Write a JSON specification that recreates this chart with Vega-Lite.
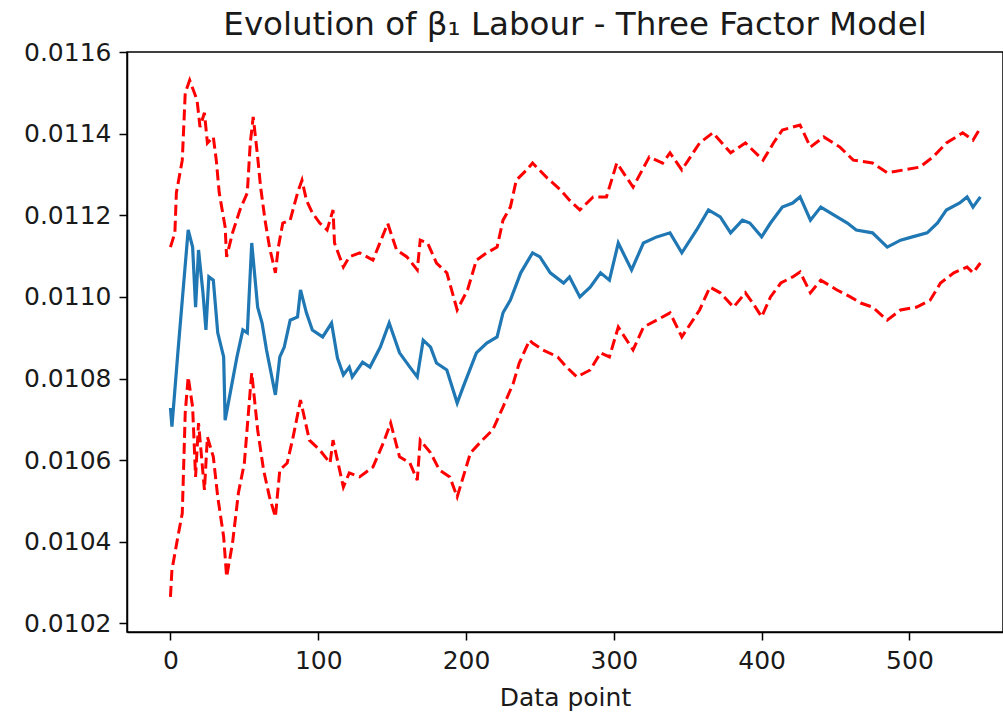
{
  "$schema": "https://vega.github.io/schema/vega-lite/v6.json",
  "width": 876,
  "height": 580,
  "autosize": "none",
  "padding": {"left": 127, "top": 52, "right": 0, "bottom": 88},
  "background": "white",
  "config": {
    "view": {"stroke": "#000", "strokeWidth": 1.5},
    "axis": {
      "grid": false,
      "domainColor": "#000",
      "domainWidth": 1.5,
      "tickColor": "#000",
      "tickWidth": 1.5,
      "tickSize": 8,
      "labelFont": "DejaVu Sans",
      "labelFontSize": 25,
      "labelColor": "#1a1a1a",
      "labelPadding": 8,
      "titleFont": "DejaVu Sans",
      "titleFontSize": 25,
      "titleFontWeight": "normal",
      "titleColor": "#1a1a1a"
    }
  },
  "title": {
    "text": "Evolution of β₁ Labour - Three Factor Model",
    "font": "DejaVu Sans",
    "fontSize": 32.5,
    "fontWeight": "normal",
    "color": "#1a1a1a",
    "frame": "group",
    "anchor": "middle",
    "baseline": "alphabetic",
    "offset": -27,
    "dx": 10
  },
  "data": {
    "values": [
      {"series": "mean", "point": 0, "beta": 0.010728},
      {"series": "mean", "point": 1, "beta": 0.010682},
      {"series": "mean", "point": 5, "beta": 0.010863},
      {"series": "mean", "point": 8, "beta": 0.010992},
      {"series": "mean", "point": 12, "beta": 0.011164},
      {"series": "mean", "point": 15, "beta": 0.011122},
      {"series": "mean", "point": 17, "beta": 0.010975},
      {"series": "mean", "point": 19, "beta": 0.011115},
      {"series": "mean", "point": 22, "beta": 0.01101},
      {"series": "mean", "point": 24, "beta": 0.010919},
      {"series": "mean", "point": 26, "beta": 0.011049},
      {"series": "mean", "point": 29, "beta": 0.011041},
      {"series": "mean", "point": 32, "beta": 0.010912},
      {"series": "mean", "point": 36, "beta": 0.010853},
      {"series": "mean", "point": 37, "beta": 0.010698},
      {"series": "mean", "point": 45, "beta": 0.010853},
      {"series": "mean", "point": 49, "beta": 0.010919},
      {"series": "mean", "point": 52, "beta": 0.010912},
      {"series": "mean", "point": 55, "beta": 0.011132},
      {"series": "mean", "point": 59, "beta": 0.010975},
      {"series": "mean", "point": 62, "beta": 0.010936},
      {"series": "mean", "point": 65, "beta": 0.01087},
      {"series": "mean", "point": 71, "beta": 0.01076},
      {"series": "mean", "point": 74, "beta": 0.010853},
      {"series": "mean", "point": 77, "beta": 0.010877},
      {"series": "mean", "point": 81, "beta": 0.010943},
      {"series": "mean", "point": 86, "beta": 0.010951},
      {"series": "mean", "point": 88, "beta": 0.011017},
      {"series": "mean", "point": 92, "beta": 0.010961},
      {"series": "mean", "point": 96, "beta": 0.010919},
      {"series": "mean", "point": 103, "beta": 0.010902},
      {"series": "mean", "point": 109, "beta": 0.010936},
      {"series": "mean", "point": 113, "beta": 0.01085},
      {"series": "mean", "point": 117, "beta": 0.010809},
      {"series": "mean", "point": 121, "beta": 0.010828},
      {"series": "mean", "point": 123, "beta": 0.010804},
      {"series": "mean", "point": 130, "beta": 0.01084},
      {"series": "mean", "point": 135, "beta": 0.010828},
      {"series": "mean", "point": 142, "beta": 0.010877},
      {"series": "mean", "point": 148, "beta": 0.010936},
      {"series": "mean", "point": 155, "beta": 0.010863},
      {"series": "mean", "point": 162, "beta": 0.010828},
      {"series": "mean", "point": 167, "beta": 0.010804},
      {"series": "mean", "point": 171, "beta": 0.010894},
      {"series": "mean", "point": 176, "beta": 0.010877},
      {"series": "mean", "point": 180, "beta": 0.010838},
      {"series": "mean", "point": 187, "beta": 0.010821},
      {"series": "mean", "point": 194, "beta": 0.01074},
      {"series": "mean", "point": 198, "beta": 0.010779},
      {"series": "mean", "point": 207, "beta": 0.010863},
      {"series": "mean", "point": 214, "beta": 0.010887},
      {"series": "mean", "point": 221, "beta": 0.010902},
      {"series": "mean", "point": 225, "beta": 0.010961},
      {"series": "mean", "point": 230, "beta": 0.010992},
      {"series": "mean", "point": 237, "beta": 0.011059},
      {"series": "mean", "point": 245, "beta": 0.011108},
      {"series": "mean", "point": 250, "beta": 0.011098},
      {"series": "mean", "point": 257, "beta": 0.011059},
      {"series": "mean", "point": 266, "beta": 0.011034},
      {"series": "mean", "point": 270, "beta": 0.011049},
      {"series": "mean", "point": 277, "beta": 0.011},
      {"series": "mean", "point": 284, "beta": 0.011024},
      {"series": "mean", "point": 291, "beta": 0.011059},
      {"series": "mean", "point": 297, "beta": 0.011041},
      {"series": "mean", "point": 303, "beta": 0.011132},
      {"series": "mean", "point": 312, "beta": 0.011066},
      {"series": "mean", "point": 320, "beta": 0.011132},
      {"series": "mean", "point": 329, "beta": 0.011147},
      {"series": "mean", "point": 338, "beta": 0.011157},
      {"series": "mean", "point": 346, "beta": 0.011108},
      {"series": "mean", "point": 356, "beta": 0.011164},
      {"series": "mean", "point": 364, "beta": 0.011213},
      {"series": "mean", "point": 372, "beta": 0.011196},
      {"series": "mean", "point": 379, "beta": 0.011157},
      {"series": "mean", "point": 387, "beta": 0.011188},
      {"series": "mean", "point": 392, "beta": 0.011181},
      {"series": "mean", "point": 400, "beta": 0.011147},
      {"series": "mean", "point": 406, "beta": 0.011181},
      {"series": "mean", "point": 414, "beta": 0.01122},
      {"series": "mean", "point": 421, "beta": 0.01123},
      {"series": "mean", "point": 426, "beta": 0.011245},
      {"series": "mean", "point": 433, "beta": 0.011188},
      {"series": "mean", "point": 440, "beta": 0.01122},
      {"series": "mean", "point": 451, "beta": 0.011196},
      {"series": "mean", "point": 458, "beta": 0.011181},
      {"series": "mean", "point": 464, "beta": 0.011164},
      {"series": "mean", "point": 475, "beta": 0.011157},
      {"series": "mean", "point": 485, "beta": 0.011122},
      {"series": "mean", "point": 494, "beta": 0.011139},
      {"series": "mean", "point": 502, "beta": 0.011147},
      {"series": "mean", "point": 512, "beta": 0.011157},
      {"series": "mean", "point": 519, "beta": 0.011181},
      {"series": "mean", "point": 525, "beta": 0.011213},
      {"series": "mean", "point": 534, "beta": 0.01123},
      {"series": "mean", "point": 539, "beta": 0.011245},
      {"series": "mean", "point": 543, "beta": 0.01122},
      {"series": "mean", "point": 548, "beta": 0.011245},

      {"series": "upper", "point": 0, "beta": 0.011122},
      {"series": "upper", "point": 3, "beta": 0.011157},
      {"series": "upper", "point": 4, "beta": 0.011255},
      {"series": "upper", "point": 8, "beta": 0.011335},
      {"series": "upper", "point": 10, "beta": 0.0115},
      {"series": "upper", "point": 13, "beta": 0.011531},
      {"series": "upper", "point": 18, "beta": 0.011482},
      {"series": "upper", "point": 20, "beta": 0.011416},
      {"series": "upper", "point": 23, "beta": 0.011451},
      {"series": "upper", "point": 25, "beta": 0.011377},
      {"series": "upper", "point": 29, "beta": 0.011392},
      {"series": "upper", "point": 31, "beta": 0.011335},
      {"series": "upper", "point": 33, "beta": 0.011255},
      {"series": "upper", "point": 37, "beta": 0.011171},
      {"series": "upper", "point": 38, "beta": 0.011098},
      {"series": "upper", "point": 42, "beta": 0.011157},
      {"series": "upper", "point": 47, "beta": 0.011213},
      {"series": "upper", "point": 52, "beta": 0.011255},
      {"series": "upper", "point": 54, "beta": 0.011377},
      {"series": "upper", "point": 56, "beta": 0.011441},
      {"series": "upper", "point": 59, "beta": 0.011343},
      {"series": "upper", "point": 61, "beta": 0.011269},
      {"series": "upper", "point": 64, "beta": 0.011188},
      {"series": "upper", "point": 67, "beta": 0.011122},
      {"series": "upper", "point": 71, "beta": 0.011059},
      {"series": "upper", "point": 73, "beta": 0.011122},
      {"series": "upper", "point": 76, "beta": 0.011181},
      {"series": "upper", "point": 81, "beta": 0.011188},
      {"series": "upper", "point": 86, "beta": 0.011255},
      {"series": "upper", "point": 89, "beta": 0.011286},
      {"series": "upper", "point": 92, "beta": 0.011237},
      {"series": "upper", "point": 96, "beta": 0.011206},
      {"series": "upper", "point": 101, "beta": 0.011181},
      {"series": "upper", "point": 106, "beta": 0.011164},
      {"series": "upper", "point": 110, "beta": 0.011213},
      {"series": "upper", "point": 111, "beta": 0.011132},
      {"series": "upper", "point": 117, "beta": 0.011073},
      {"series": "upper", "point": 121, "beta": 0.011098},
      {"series": "upper", "point": 128, "beta": 0.011108},
      {"series": "upper", "point": 137, "beta": 0.01109},
      {"series": "upper", "point": 147, "beta": 0.01118},
      {"series": "upper", "point": 153, "beta": 0.011115},
      {"series": "upper", "point": 160, "beta": 0.011098},
      {"series": "upper", "point": 167, "beta": 0.011066},
      {"series": "upper", "point": 169, "beta": 0.011139},
      {"series": "upper", "point": 174, "beta": 0.011132},
      {"series": "upper", "point": 180, "beta": 0.011083},
      {"series": "upper", "point": 187, "beta": 0.011059},
      {"series": "upper", "point": 194, "beta": 0.010968},
      {"series": "upper", "point": 201, "beta": 0.011017},
      {"series": "upper", "point": 207, "beta": 0.01109},
      {"series": "upper", "point": 214, "beta": 0.011108},
      {"series": "upper", "point": 221, "beta": 0.011122},
      {"series": "upper", "point": 225, "beta": 0.011188},
      {"series": "upper", "point": 230, "beta": 0.01122},
      {"series": "upper", "point": 234, "beta": 0.011286},
      {"series": "upper", "point": 241, "beta": 0.011311},
      {"series": "upper", "point": 245, "beta": 0.011328},
      {"series": "upper", "point": 255, "beta": 0.011291},
      {"series": "upper", "point": 264, "beta": 0.011262},
      {"series": "upper", "point": 270, "beta": 0.011237},
      {"series": "upper", "point": 277, "beta": 0.011213},
      {"series": "upper", "point": 286, "beta": 0.011245},
      {"series": "upper", "point": 295, "beta": 0.011245},
      {"series": "upper", "point": 302, "beta": 0.011328},
      {"series": "upper", "point": 313, "beta": 0.011269},
      {"series": "upper", "point": 324, "beta": 0.011343},
      {"series": "upper", "point": 333, "beta": 0.011328},
      {"series": "upper", "point": 338, "beta": 0.011353},
      {"series": "upper", "point": 346, "beta": 0.011311},
      {"series": "upper", "point": 358, "beta": 0.011377},
      {"series": "upper", "point": 367, "beta": 0.011402},
      {"series": "upper", "point": 379, "beta": 0.011353},
      {"series": "upper", "point": 389, "beta": 0.011377},
      {"series": "upper", "point": 401, "beta": 0.011335},
      {"series": "upper", "point": 408, "beta": 0.011377},
      {"series": "upper", "point": 414, "beta": 0.011409},
      {"series": "upper", "point": 426, "beta": 0.011421},
      {"series": "upper", "point": 433, "beta": 0.011367},
      {"series": "upper", "point": 442, "beta": 0.011392},
      {"series": "upper", "point": 453, "beta": 0.011367},
      {"series": "upper", "point": 462, "beta": 0.011335},
      {"series": "upper", "point": 475, "beta": 0.011328},
      {"series": "upper", "point": 485, "beta": 0.011304},
      {"series": "upper", "point": 496, "beta": 0.011311},
      {"series": "upper", "point": 507, "beta": 0.011318},
      {"series": "upper", "point": 516, "beta": 0.011343},
      {"series": "upper", "point": 525, "beta": 0.011377},
      {"series": "upper", "point": 536, "beta": 0.011402},
      {"series": "upper", "point": 543, "beta": 0.011384},
      {"series": "upper", "point": 548, "beta": 0.011414},

      {"series": "lower", "point": 0, "beta": 0.010265},
      {"series": "lower", "point": 1, "beta": 0.010331},
      {"series": "lower", "point": 5, "beta": 0.010412},
      {"series": "lower", "point": 8, "beta": 0.01047},
      {"series": "lower", "point": 9, "beta": 0.010593},
      {"series": "lower", "point": 10, "beta": 0.010716},
      {"series": "lower", "point": 12, "beta": 0.010804},
      {"series": "lower", "point": 15, "beta": 0.01073},
      {"series": "lower", "point": 17, "beta": 0.010559},
      {"series": "lower", "point": 19, "beta": 0.010691},
      {"series": "lower", "point": 23, "beta": 0.010527},
      {"series": "lower", "point": 25, "beta": 0.010657},
      {"series": "lower", "point": 29, "beta": 0.010608},
      {"series": "lower", "point": 32, "beta": 0.01051},
      {"series": "lower", "point": 36, "beta": 0.010412},
      {"series": "lower", "point": 38, "beta": 0.010314},
      {"series": "lower", "point": 42, "beta": 0.010397},
      {"series": "lower", "point": 46, "beta": 0.01052},
      {"series": "lower", "point": 50, "beta": 0.010593},
      {"series": "lower", "point": 54, "beta": 0.010772},
      {"series": "lower", "point": 55, "beta": 0.010814},
      {"series": "lower", "point": 59, "beta": 0.010674},
      {"series": "lower", "point": 63, "beta": 0.010576},
      {"series": "lower", "point": 67, "beta": 0.01051},
      {"series": "lower", "point": 71, "beta": 0.010461},
      {"series": "lower", "point": 74, "beta": 0.010576},
      {"series": "lower", "point": 79, "beta": 0.010593},
      {"series": "lower", "point": 83, "beta": 0.010657},
      {"series": "lower", "point": 88, "beta": 0.010747},
      {"series": "lower", "point": 94, "beta": 0.010649},
      {"series": "lower", "point": 101, "beta": 0.010625},
      {"series": "lower", "point": 108, "beta": 0.010593},
      {"series": "lower", "point": 110, "beta": 0.010649},
      {"series": "lower", "point": 117, "beta": 0.010534},
      {"series": "lower", "point": 121, "beta": 0.010569},
      {"series": "lower", "point": 128, "beta": 0.010559},
      {"series": "lower", "point": 137, "beta": 0.010583},
      {"series": "lower", "point": 144, "beta": 0.010642},
      {"series": "lower", "point": 149, "beta": 0.010691},
      {"series": "lower", "point": 155, "beta": 0.010608},
      {"series": "lower", "point": 162, "beta": 0.010593},
      {"series": "lower", "point": 167, "beta": 0.010551},
      {"series": "lower", "point": 169, "beta": 0.010649},
      {"series": "lower", "point": 176, "beta": 0.010618},
      {"series": "lower", "point": 182, "beta": 0.010576},
      {"series": "lower", "point": 189, "beta": 0.010559},
      {"series": "lower", "point": 194, "beta": 0.01051},
      {"series": "lower", "point": 203, "beta": 0.010618},
      {"series": "lower", "point": 211, "beta": 0.010649},
      {"series": "lower", "point": 218, "beta": 0.010674},
      {"series": "lower", "point": 225, "beta": 0.01073},
      {"series": "lower", "point": 232, "beta": 0.010789},
      {"series": "lower", "point": 236, "beta": 0.010838},
      {"series": "lower", "point": 243, "beta": 0.010894},
      {"series": "lower", "point": 245, "beta": 0.010887},
      {"series": "lower", "point": 252, "beta": 0.01087},
      {"series": "lower", "point": 262, "beta": 0.010853},
      {"series": "lower", "point": 268, "beta": 0.010828},
      {"series": "lower", "point": 275, "beta": 0.010804},
      {"series": "lower", "point": 284, "beta": 0.010821},
      {"series": "lower", "point": 291, "beta": 0.010863},
      {"series": "lower", "point": 297, "beta": 0.010853},
      {"series": "lower", "point": 303, "beta": 0.010926},
      {"series": "lower", "point": 313, "beta": 0.01087},
      {"series": "lower", "point": 320, "beta": 0.010926},
      {"series": "lower", "point": 329, "beta": 0.010943},
      {"series": "lower", "point": 338, "beta": 0.010961},
      {"series": "lower", "point": 346, "beta": 0.010902},
      {"series": "lower", "point": 358, "beta": 0.010968},
      {"series": "lower", "point": 365, "beta": 0.011024},
      {"series": "lower", "point": 372, "beta": 0.01101},
      {"series": "lower", "point": 381, "beta": 0.010975},
      {"series": "lower", "point": 389, "beta": 0.01101},
      {"series": "lower", "point": 394, "beta": 0.010985},
      {"series": "lower", "point": 400, "beta": 0.010951},
      {"series": "lower", "point": 406, "beta": 0.011},
      {"series": "lower", "point": 413, "beta": 0.011034},
      {"series": "lower", "point": 421, "beta": 0.011049},
      {"series": "lower", "point": 426, "beta": 0.011061},
      {"series": "lower", "point": 433, "beta": 0.01101},
      {"series": "lower", "point": 440, "beta": 0.011041},
      {"series": "lower", "point": 451, "beta": 0.011017},
      {"series": "lower", "point": 460, "beta": 0.011},
      {"series": "lower", "point": 467, "beta": 0.010985},
      {"series": "lower", "point": 475, "beta": 0.010975},
      {"series": "lower", "point": 485, "beta": 0.010943},
      {"series": "lower", "point": 494, "beta": 0.010968},
      {"series": "lower", "point": 505, "beta": 0.010975},
      {"series": "lower", "point": 514, "beta": 0.010992},
      {"series": "lower", "point": 521, "beta": 0.011034},
      {"series": "lower", "point": 530, "beta": 0.011059},
      {"series": "lower", "point": 539, "beta": 0.011073},
      {"series": "lower", "point": 543, "beta": 0.011059},
      {"series": "lower", "point": 548, "beta": 0.011083}
    ]
  },
  "encoding": {
    "x": {
      "field": "point",
      "type": "quantitative",
      "scale": {"domain": [-29.4, 563.3], "nice": false, "zero": false},
      "axis": {"values": [0, 100, 200, 300, 400, 500], "title": "Data point", "titlePadding": 12, "format": "d"}
    },
    "y": {
      "field": "beta",
      "type": "quantitative",
      "scale": {"domain": [0.010179, 0.0116], "nice": false, "zero": false},
      "axis": {"values": [0.0102, 0.0104, 0.0106, 0.0108, 0.011, 0.0112, 0.0114, 0.0116], "format": ".4f", "title": null}
    }
  },
  "layer": [
    {
      "transform": [{"filter": "datum.series === 'mean'"}],
      "mark": {"type": "line", "color": "#1f77b4", "strokeWidth": 3.2, "clip": true}
    },
    {
      "transform": [{"filter": "datum.series !== 'mean'"}],
      "mark": {"type": "line", "color": "#ff0000", "strokeWidth": 3, "strokeDash": [11, 5], "clip": true},
      "encoding": {"detail": {"field": "series", "type": "nominal"}}
    }
  ]
}
